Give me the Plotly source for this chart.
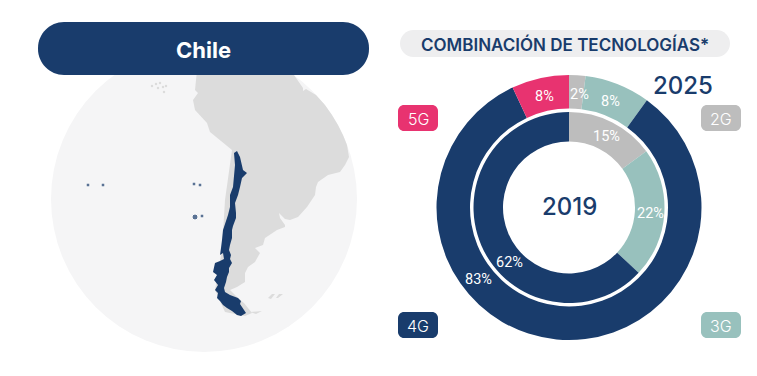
import plotly.graph_objects as go

W, H = 757, 376
categories = ["2G", "3G", "4G", "5G"]
# Slice shares as drawn in the picture; the printed labels differ slightly through rounding in the source.
values_2025 = [2, 8, 83, 7]
values_2019 = [15, 22, 63, 0]
labels_2025 = ["2%", "8%", "83%", "8%"]
labels_2019 = ["15%", "22%", "62%", ""]
colors = ["#bdbdbd", "#98c1bd", "#193c6c", "#e83370"]
NAVY = "#193c6c"

CX, CY = 569, 207.5


def domain(r):
    return dict(x=[(CX - r) / W, (CX + r) / W], y=[1 - (CY + r) / H, 1 - (CY - r) / H])


land = [(197, 70), (293, 70), (294, 75), (303, 88), (303, 91), (306, 89), (316, 95), (325, 105), (332, 115), (338, 125),
        (343, 135), (347, 145), (349, 157), (345, 165), (340, 172), (328, 175), (318, 182), (316, 187),
        (315, 195), (307, 207), (298, 217), (290, 220), (285, 219), (279, 213), (280, 218), (285, 225),
        (285, 227), (277, 230), (265, 238), (263, 245), (255, 248), (260, 253), (255, 262), (248, 267),
        (245, 273), (245, 282), (237, 287), (230, 290), (238, 298), (244, 303), (252, 313), (245, 316), (225, 312),
        (215, 290), (222, 250), (225, 200), (232, 150), (210, 132), (207, 123), (195, 110), (193, 100),
        (198, 93), (195, 90)]
chile = [(237, 151), (240, 157), (243, 170), (247, 173), (242, 178), (240, 187), (238, 195), (235, 203),
         (236, 213), (236, 218), (233, 226),
         (232, 230), (232, 238), (230, 245), (229, 250), (231, 255), (230, 259), (232, 263), (229, 268), (229, 272),
         (227, 277), (226, 282), (224, 288), (225, 292), (230, 295), (238, 298), (241, 301), (240, 304), (242, 307),
         (246, 313), (241, 316), (237, 315), (232, 311), (227, 308), (223, 305), (220, 301), (217, 298), (218, 293),
         (215, 290), (218, 285), (214, 280), (217, 275), (213, 272), (215, 263), (220, 261), (224, 259), (223, 253),
         (220, 255), (221, 248), (222, 240), (223, 230),
         (228, 215), (230, 207), (230, 195), (233, 187), (235, 165), (234, 153)]
falklands = [[(268, 298), (272, 294), (275, 294), (271, 299)], [(276, 298), (279, 294), (283, 294), (278, 298)],
             [(250, 312), (262, 311), (256, 314)]]
island_x = [88, 103, 194, 200, 195, 202]
island_y = [185, 185, 184, 185, 217, 216]
island_size = [4, 4, 4, 4, 6, 4]
galapagos_x = [152, 156, 158, 160, 163, 166, 164]
galapagos_y = [86, 84, 88, 83, 87, 86, 92]


def poly(pts):
    return "M" + " L".join(f"{x},{y}" for x, y in pts) + " Z"


def rrect(x0, y0, x1, y1, r):
    k = r * 0.45
    return (f"M{x0+r},{y0} L{x1-r},{y0} C{x1-k},{y0} {x1},{y0+k} {x1},{y0+r} L{x1},{y1-r} "
            f"C{x1},{y1-k} {x1-k},{y1} {x1-r},{y1} L{x0+r},{y1} C{x0+k},{y1} {x0},{y1-k} {x0},{y1-r} "
            f"L{x0},{y0+r} C{x0},{y0+k} {x0+k},{y0} {x0+r},{y0} Z")


def shp(path, color):
    return dict(type="path", path=path, fillcolor=color, line_width=0, xref="x", yref="y", layer="below")


shapes = [dict(type="circle", x0=51, x1=357, y0=46, y1=352, fillcolor="#f5f5f6", line_width=0,
               xref="x", yref="y", layer="below"),
          shp(poly(land), "#dcdcdc")]
shapes += [shp(poly(p), "#dcdcdc") for p in falklands]
shapes += [dict(shp(poly(chile), NAVY), line=dict(width=1, color=NAVY))]
shapes += [shp(rrect(38, 22, 369, 75, 26), NAVY), shp(rrect(400, 30, 730, 57, 13.5), "#eeeeef")]

tag_boxes = {"5G": (398, 105), "2G": (701, 105), "4G": (398, 312), "3G": (701, 312)}
annotations = []


def txt(x, y, s, size, color, family="Inter", weight=400):
    annotations.append(dict(x=x, y=y, text=s, xref="x", yref="y", showarrow=False, xanchor="center", yanchor="middle",
                            font=dict(size=size, color=color, family=family, weight=weight)))


for c, col in zip(categories, colors):
    bx, by = tag_boxes[c]
    shapes.append(shp(rrect(bx, by, bx + 40, by + 26, 6), col))
    txt(bx + 20, by + 13.5, c, 16, "#ffffff", weight=300)

txt(203, 50, "Chile", 22, "#ffffff", weight=700)
txt(565, 44, "COMBINACIÓN DE TECNOLOGÍAS*", 17, NAVY, weight=600)
txt(683, 85, "2025", 24, NAVY, weight=500)
txt(569, 206, "2019", 24, NAVY, weight=500)

LABEL_FONT = "Roboto"
label_pos_2025 = [(579, 94), (610, 101), (478, 279), (544, 96)]
label_pos_2019 = [(606, 136), (650, 213), (509, 262)]
for pos, s in zip(label_pos_2025, labels_2025):
    txt(*pos, s, 14.5, "#ffffff", LABEL_FONT, 400)
for pos, s in zip(label_pos_2019, labels_2019):
    txt(*pos, s, 14.5, "#ffffff", LABEL_FONT, 400)

fig = go.Figure()
fig.add_trace(go.Scatter(x=galapagos_x, y=galapagos_y, mode="markers", hoverinfo="skip",
                         marker=dict(size=2.5, color="#dcdcdc")))
fig.add_trace(go.Scatter(x=island_x, y=island_y, mode="markers", hoverinfo="skip",
                         marker=dict(size=island_size, color=NAVY)))
fig.add_trace(go.Pie(labels=categories, values=values_2025, hole=99 / 132.5, sort=False, direction="clockwise",
                     rotation=0, textinfo="none", marker=dict(colors=colors, line=dict(width=0)),
                     domain=domain(132.5), hoverinfo="label+value"))
fig.add_trace(go.Pie(labels=categories, values=values_2019, hole=66 / 95.5, sort=False, direction="clockwise",
                     rotation=0, textinfo="none", marker=dict(colors=colors, line=dict(width=0)),
                     domain=domain(95.5), hoverinfo="label+value"))

fig.update_layout(width=W, height=H, margin=dict(l=0, r=0, t=0, b=0), paper_bgcolor="#ffffff", plot_bgcolor="#ffffff",
                  showlegend=False, shapes=shapes, annotations=annotations,
                  xaxis=dict(range=[0, W], visible=False, fixedrange=True),
                  yaxis=dict(range=[H, 0], visible=False, fixedrange=True))
fig.write_html("out.html", config=dict(displayModeBar=False, responsive=False),
               post_script="document.body.style.margin='0';")
